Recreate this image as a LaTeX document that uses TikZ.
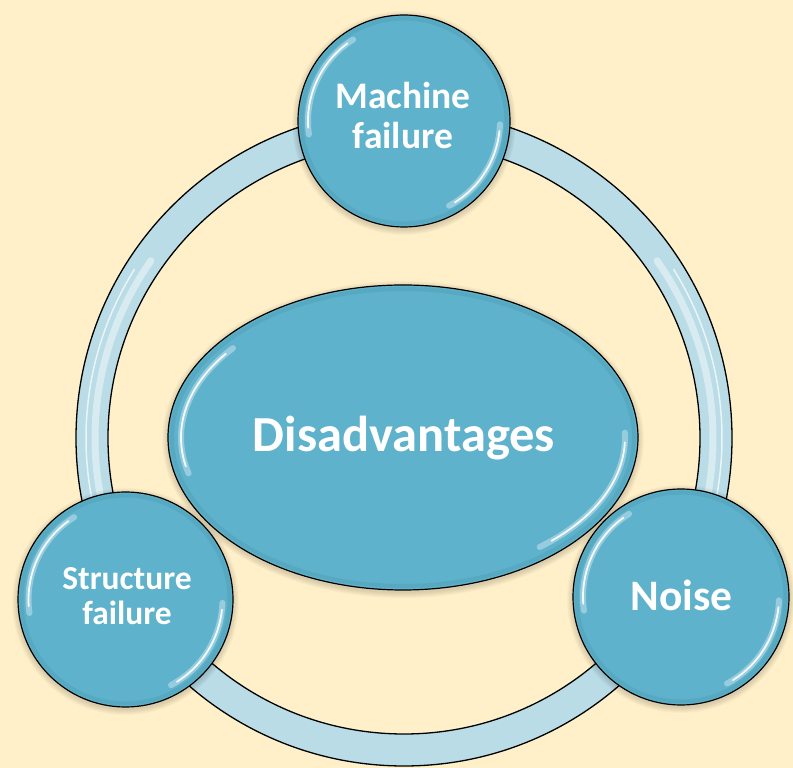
\documentclass[tikz,border=0pt]{standalone}
\usepackage{fontspec}
\setmainfont{Carlito}
\usetikzlibrary{shapes.geometric}
\definecolor{bg}{HTML}{FFF0C9}
\definecolor{bubble}{HTML}{5FB2CB}
\definecolor{bubbledark}{HTML}{4F9DB6}
\definecolor{ringblue}{HTML}{B9DCE6}

% glossy rim light inside a round bubble: #1 node, #2 radius of the light
\newcommand{\rimlight}[2]{%
  \draw[shine, opacity=.35, line width=6pt] ([shift={(122:#2)}]#1.center) arc[start angle=122, end angle=188, radius=#2];
  \draw[shine, opacity=.9, line width=1.8pt] ([shift={(126:#2)}]#1.center) arc[start angle=126, end angle=184, radius=#2];
  \draw[shine, opacity=.35, line width=6pt] ([shift={(-62:#2)}]#1.center) arc[start angle=-62, end angle=-2, radius=#2];
  \draw[shine, opacity=.9, line width=1.8pt] ([shift={(-58:#2)}]#1.center) arc[start angle=-58, end angle=-6, radius=#2];
}

\begin{document}
\begin{tikzpicture}[x=1pt,y=1pt,
  disc/.style={circle, draw=black, line width=1.2pt, fill=bubble, inner sep=0pt},
  oval/.style={ellipse, draw=black, line width=1.2pt, fill=bubble, inner sep=0pt},
  lbl/.style={text=white, anchor=base, inner sep=0pt},
  shine/.style={white, line cap=round},
]
% page
\fill[bg] (0,0) rectangle (793,768);
\useasboundingbox (0,0) rectangle (793,768);

% ---- the ring joining the three outer bubbles ----
\coordinate (hub) at (404,330);
\fill[ringblue, even odd rule] (hub) circle[radius=328] (hub) circle[radius=296];
\draw[shine, opacity=.45, line width=7pt] ([shift={(145:309)}]hub) arc[start angle=145, end angle=205, radius=309];
\draw[shine, opacity=.7, line width=1.5pt] ([shift={(148:318)}]hub) arc[start angle=148, end angle=200, radius=318];
\draw[shine, opacity=.45, line width=7pt] ([shift={(35:309)}]hub) arc[start angle=35, end angle=-25, radius=309];
\draw[shine, opacity=.7, line width=1.5pt] ([shift={(32:318)}]hub) arc[start angle=32, end angle=-20, radius=318];
\draw[black, line width=1.3pt] (hub) circle[radius=328] (hub) circle[radius=296];

% ---- soft shadows under the bubbles ----
\foreach \cx/\cy/\rx/\ry in {403/330.5/235/152.5, 404/647/106/106, 125.5/168.5/107.5/107.5, 681/171/108/108}{
  \foreach \k in {1,...,6}
    \fill[black, opacity=.022] (\cx,\cy-2) ellipse[x radius=\rx+\k, y radius=\ry+\k];
}

% ---- central ellipse ----
\node[oval, minimum width=470pt, minimum height=305pt] (core) at (403,330.5) {};
\draw[bubbledark, opacity=.45, line width=4pt] (core.center) ellipse[x radius=231, y radius=148.5];
\draw[shine, opacity=.35, line width=6pt] ([shift={(140:222 and 139)}]core.center) arc[start angle=140, end angle=195, x radius=222, y radius=139];
\draw[shine, opacity=.9, line width=1.8pt] ([shift={(143:222 and 139)}]core.center) arc[start angle=143, end angle=192, x radius=222, y radius=139];
\draw[shine, opacity=.35, line width=6pt] ([shift={(-52:222 and 139)}]core.center) arc[start angle=-52, end angle=2, x radius=222, y radius=139];
\draw[shine, opacity=.9, line width=1.8pt] ([shift={(-48:222 and 139)}]core.center) arc[start angle=-48, end angle=-2, x radius=222, y radius=139];
\node[lbl, font=\fontsize{50.5}{54}\selectfont\bfseries] (coretext) at (404,316) {Disadvantages};

% ---- outer bubbles ----
\node[disc, minimum size=212pt] (mach) at (404,647) {};
\node[disc, minimum size=215pt] (struct) at (125.5,168.5) {};
\node[disc, minimum size=216pt] (noise) at (681,171) {};

\draw[bubbledark, opacity=.45, line width=4pt] (mach.center) circle[radius=102.5];
\draw[bubbledark, opacity=.45, line width=4pt] (struct.center) circle[radius=104];
\draw[bubbledark, opacity=.45, line width=4pt] (noise.center) circle[radius=104.5];
\rimlight{mach}{96}
\rimlight{struct}{97}
\rimlight{noise}{98}

\node[lbl, font=\fontsize{37.5}{40}\selectfont\bfseries] (machA) at (403,659) {Machine};
\node[lbl, font=\fontsize{37.5}{40}\selectfont\bfseries] (machB) at (403,619) {failure};
\node[lbl, font=\fontsize{33.5}{35}\selectfont\bfseries] (structA) at (127,178) {Structure};
\node[lbl, font=\fontsize{33.5}{35}\selectfont\bfseries] (structB) at (127,143) {failure};
\node[lbl, font=\fontsize{43.5}{45}\selectfont\bfseries] (noisetext) at (681.5,157) {Noise};
\end{tikzpicture}
\end{document}
